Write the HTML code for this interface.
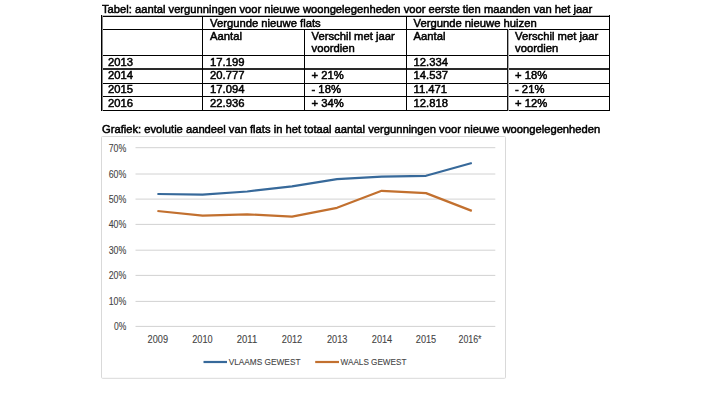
<!DOCTYPE html>
<html><head><meta charset="utf-8">
<style>
html,body{margin:0;padding:0;background:#fff;}
body{width:716px;height:403px;overflow:hidden;position:relative;font-family:"Liberation Sans",sans-serif;color:#000;}
.t{position:absolute;white-space:nowrap;font-size:11.25px;line-height:12px;-webkit-text-stroke:0.5px #000;filter:grayscale(1);}
svg{position:absolute;left:0;top:0;}
.ax{font-family:"Liberation Sans",sans-serif;font-size:10.2px;fill:#444;stroke:#444;stroke-width:0.1px;}
</style></head><body>
<div class="t" style="left:102px;top:3px;font-size:11.2px;">Tabel: aantal vergunningen voor nieuwe woongelegenheden voor eerste tien maanden van het jaar</div>

<!-- table lines -->
<div style="position:absolute;left:101px;top:15px;width:509px;height:1px;background:#bbb"></div>
<div style="position:absolute;left:101px;top:16px;width:509px;height:1px;background:#000"></div>
<div style="position:absolute;left:101px;top:29px;width:509px;height:1px;background:#000"></div>
<div style="position:absolute;left:101px;top:55px;width:509px;height:1px;background:#000"></div>
<div style="position:absolute;left:101px;top:68px;width:509px;height:2px;background:#2a2a2a"></div>
<div style="position:absolute;left:101px;top:83px;width:509px;height:1px;background:#000"></div>
<div style="position:absolute;left:101px;top:96px;width:509px;height:1px;background:#000"></div>
<div style="position:absolute;left:101px;top:110px;width:509px;height:1px;background:#000"></div>
<div style="position:absolute;left:101px;top:15px;width:1px;height:96px;background:#000"></div>
<div style="position:absolute;left:102px;top:16px;width:1px;height:95px;background:#888"></div>
<div style="position:absolute;left:202px;top:16px;width:1px;height:95px;background:#000"></div>
<div style="position:absolute;left:304px;top:29px;width:1px;height:82px;background:#000"></div>
<div style="position:absolute;left:406px;top:16px;width:1px;height:95px;background:#000"></div>
<div style="position:absolute;left:507px;top:29px;width:1px;height:82px;background:#151515"></div>
<div style="position:absolute;left:508px;top:29px;width:1px;height:82px;background:#aaa"></div>
<div style="position:absolute;left:609px;top:15px;width:1px;height:96px;background:#000"></div>

<!-- header -->
<div class="t" style="left:210px;top:17px;">Vergunde nieuwe flats</div>
<div class="t" style="left:413.5px;top:17px;">Vergunde nieuwe huizen</div>
<div class="t" style="left:210px;top:30px;">Aantal</div>
<div class="t" style="left:311.5px;top:30px;">Verschil met jaar<br>voordien</div>
<div class="t" style="left:413.5px;top:30px;">Aantal</div>
<div class="t" style="left:515px;top:30px;">Verschil met jaar<br>voordien</div>

<!-- rows -->
<div class="t" style="left:108px;top:56px;">2013</div>
<div class="t" style="left:210px;top:56px;">17.199</div>
<div class="t" style="left:413.5px;top:56px;">12.334</div>

<div class="t" style="left:108px;top:69.4px;">2014</div>
<div class="t" style="left:210px;top:69.4px;">20.777</div>
<div class="t" style="left:311.5px;top:69.4px;">+ 21%</div>
<div class="t" style="left:413.5px;top:69.4px;">14.537</div>
<div class="t" style="left:515px;top:69.4px;">+ 18%</div>

<div class="t" style="left:108px;top:82.6px;">2015</div>
<div class="t" style="left:210px;top:82.6px;">17.094</div>
<div class="t" style="left:311.5px;top:82.6px;">- 18%</div>
<div class="t" style="left:413.5px;top:82.6px;">11.471</div>
<div class="t" style="left:515px;top:82.6px;">- 21%</div>

<div class="t" style="left:108px;top:96.5px;">2016</div>
<div class="t" style="left:210px;top:96.5px;">22.936</div>
<div class="t" style="left:311.5px;top:96.5px;">+ 34%</div>
<div class="t" style="left:413.5px;top:96.5px;">12.818</div>
<div class="t" style="left:515px;top:96.5px;">+ 12%</div>

<div class="t" style="left:102px;top:123px;font-size:11.2px;">Grafiek: evolutie aandeel van flats in het totaal aantal vergunningen voor nieuwe woongelegenheden</div>

<svg width="716" height="403" viewBox="0 0 716 403">
  <rect x="101.5" y="136.5" width="404" height="241.8" rx="1" fill="none" stroke="#d9d9d9" stroke-width="1"/>
  <g stroke="#d2d2d2" stroke-width="1">
    <line x1="135.5" x2="495.3" y1="147.7" y2="147.7"/>
    <line x1="135.5" x2="495.3" y1="174.0" y2="174.0"/>
    <line x1="135.5" x2="495.3" y1="199.1" y2="199.1"/>
    <line x1="135.5" x2="495.3" y1="224.4" y2="224.4"/>
    <line x1="135.5" x2="495.3" y1="250.2" y2="250.2"/>
    <line x1="135.5" x2="495.3" y1="275.4" y2="275.4"/>
    <line x1="135.5" x2="495.3" y1="301.4" y2="301.4"/>
    <line x1="135.5" x2="495.3" y1="326.4" y2="326.4"/>
  </g>
  <g class="ax" text-anchor="end">
    <text x="126.3" y="151.6" textLength="17.6" lengthAdjust="spacingAndGlyphs">70%</text>
    <text x="126.3" y="177.9" textLength="17.6" lengthAdjust="spacingAndGlyphs">60%</text>
    <text x="126.3" y="203.0" textLength="17.6" lengthAdjust="spacingAndGlyphs">50%</text>
    <text x="126.3" y="228.3" textLength="17.6" lengthAdjust="spacingAndGlyphs">40%</text>
    <text x="126.3" y="254.1" textLength="17.6" lengthAdjust="spacingAndGlyphs">30%</text>
    <text x="126.3" y="279.3" textLength="17.6" lengthAdjust="spacingAndGlyphs">20%</text>
    <text x="126.3" y="305.3" textLength="17.6" lengthAdjust="spacingAndGlyphs">10%</text>
    <text x="126.3" y="329.9" textLength="12.3" lengthAdjust="spacingAndGlyphs">0%</text>
  </g>
  <g class="ax" text-anchor="middle">
    <text x="157.8" y="343.2" textLength="20.4" lengthAdjust="spacingAndGlyphs">2009</text>
    <text x="202.4" y="343.2" textLength="20.4" lengthAdjust="spacingAndGlyphs">2010</text>
    <text x="247.0" y="343.2" textLength="20.4" lengthAdjust="spacingAndGlyphs">2011</text>
    <text x="292.0" y="343.2" textLength="20.4" lengthAdjust="spacingAndGlyphs">2012</text>
    <text x="337.2" y="343.2" textLength="20.4" lengthAdjust="spacingAndGlyphs">2013</text>
    <text x="382.0" y="343.2" textLength="20.4" lengthAdjust="spacingAndGlyphs">2014</text>
    <text x="426.0" y="343.2" textLength="20.4" lengthAdjust="spacingAndGlyphs">2015</text>
    <text x="470.0" y="343.2" textLength="23" lengthAdjust="spacingAndGlyphs">2016*</text>
  </g>
  <polyline fill="none" stroke="#37699a" stroke-width="2.2" stroke-linejoin="round" points="157.4,194 202.6,194.6 247.2,191.5 292,186.3 337,179.2 381.7,176.6 426,175.8 471.8,163"/>
  <polyline fill="none" stroke="#c2702f" stroke-width="2.2" stroke-linejoin="round" points="157.4,211 202.6,215.7 247.2,214.3 292,216.7 337,207.8 381.7,190.8 426,193.1 471.8,210.9"/>
  <line x1="203.5" x2="227" y1="362" y2="362" stroke="#37699a" stroke-width="2.2"/>
  <line x1="315.2" x2="339" y1="362" y2="362" stroke="#c2702f" stroke-width="2.2"/>
  <text class="ax" style="font-size:9.2px" x="228.7" y="365.2" textLength="71.8" lengthAdjust="spacingAndGlyphs">VLAAMS GEWEST</text>
  <text class="ax" style="font-size:9.2px" x="340.6" y="365.2" textLength="65.8" lengthAdjust="spacingAndGlyphs">WAALS GEWEST</text>
</svg>
</body></html>
